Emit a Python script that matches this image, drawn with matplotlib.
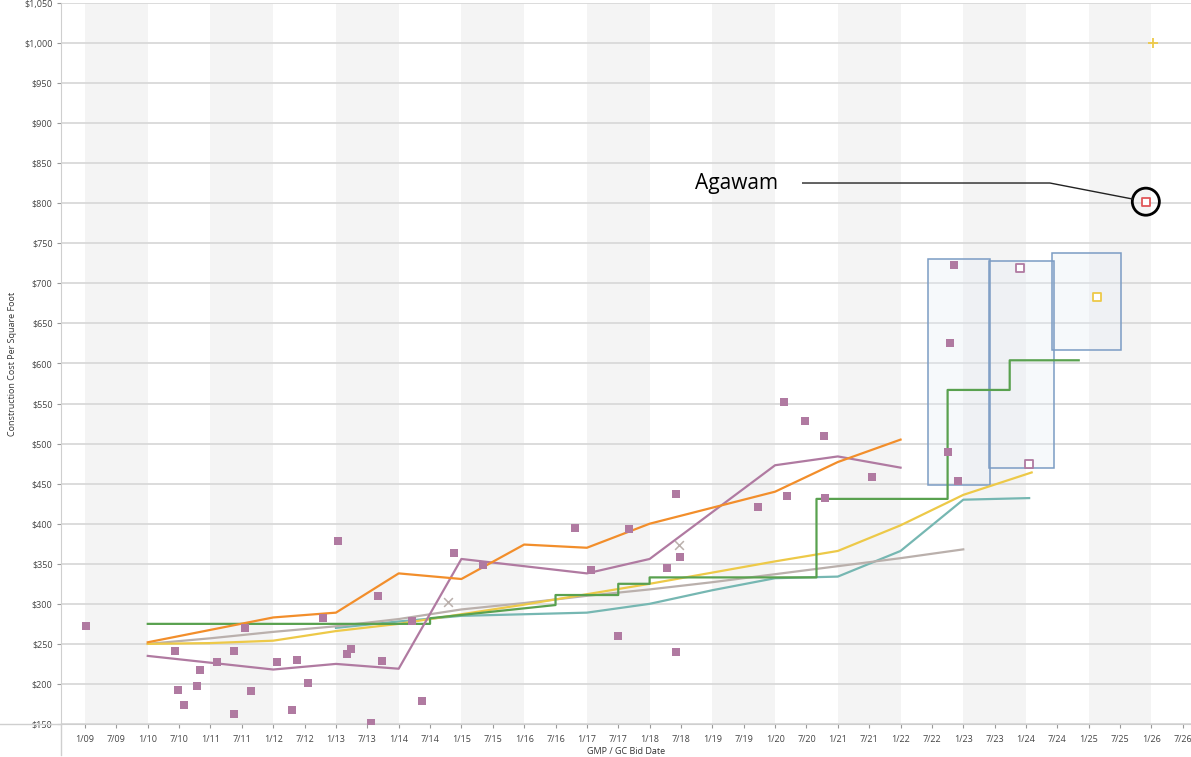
"""Construction cost per square foot against GMP / GC bid date."""
import matplotlib
matplotlib.use("Agg")
import matplotlib.pyplot as plt
from matplotlib.lines import Line2D
from matplotlib.patches import Rectangle
from matplotlib.ticker import FuncFormatter

plt.rcParams["font.family"] = ["Open Sans", "DejaVu Sans"]

# bid dates as decimal years, costs in $/sq ft
orange_x = [2010, 2012, 2013, 2014, 2015, 2016, 2017, 2018, 2020, 2021, 2022]
orange_y = [252, 283, 289, 338, 331, 374, 370, 400, 440, 477, 505]

purple_x = [2010, 2012, 2013, 2014, 2015, 2017, 2018, 2020, 2021, 2022]
purple_y = [235, 218, 225, 219, 356, 338, 356, 473, 484, 470]

yellow_x = [2010, 2011, 2012, 2013, 2014, 2015, 2016, 2017, 2018, 2019, 2020, 2021, 2022, 2023, 2024.09]
yellow_y = [250, 251, 254, 266, 275, 287, 299, 312, 325, 339, 353, 366, 398, 436, 464]

gray_x = [2010, 2011, 2012, 2013, 2014, 2015, 2016, 2017, 2018, 2019, 2020, 2021, 2022, 2023]
gray_y = [250, 257, 265, 272, 281, 293, 301, 310, 318, 327, 337, 347, 357, 368]

teal_x = [2013, 2014, 2015, 2015.5, 2017, 2018, 2019, 2020, 2021, 2022, 2023, 2024.05]
teal_y = [270, 278, 285, 286, 289, 300, 317, 332, 334, 366, 430, 432]

green_x = [2010, 2014.5, 2014.5, 2016.5, 2016.5, 2017.5, 2017.5, 2018.0, 2018.0,
           2020.66, 2020.66, 2022.75, 2022.75, 2023.74, 2023.74, 2024.84]
green_y = [275, 275, 282, 298.5, 311, 311, 325, 325, 333,
           333, 431, 431, 567, 567, 604, 604]

project_x = [2009.02, 2010.44, 2010.48, 2010.58, 2010.79, 2010.83, 2011.10, 2011.38, 2011.38,
             2011.55, 2011.64, 2012.06, 2012.30, 2012.38, 2012.56, 2012.79, 2013.04, 2013.17,
             2013.24, 2013.56, 2013.67, 2013.73, 2014.21, 2014.37, 2014.88, 2015.35, 2016.81,
             2017.07, 2017.50, 2017.67, 2018.27, 2018.42, 2018.42, 2018.49, 2019.72, 2020.15,
             2020.19, 2020.47, 2020.78, 2020.80, 2021.54, 2022.75, 2022.79, 2022.85, 2022.91]
project_y = [272, 241, 192, 174, 198, 218, 227, 241, 162,
             270, 191, 227, 167, 230, 201, 282, 378, 237,
             243, 151, 310, 229, 279, 179, 364, 348, 395,
             342, 260, 394, 345, 437, 240, 359, 421, 552,
             435, 528, 509, 432, 458, 490, 626, 723, 453]

pending_x = [2023.91, 2024.04]
pending_y = [719, 474]

estimate_x = [2014.78, 2018.47]
estimate_y = [302, 374]

yellow_open_x = [2025.13]
yellow_open_y = [683]
plus_x = [2026.03]
plus_y = [1000]

agawam_x = 2025.91
agawam_y = 802

# range boxes: start, end, low, high
box_start = [2022.44, 2023.41, 2024.42]
box_end = [2023.43, 2024.44, 2025.51]
box_low = [448, 469, 617]
box_high = [731, 727.5, 737.5]

tick_years = [2009 + 0.5 * i for i in range(36)]
tick_labels = [f"{1 if t % 1 == 0 else 7}/{int(t) % 100:02d}" for t in tick_years]

W, H = 1191, 757
fig = plt.figure(figsize=(W / 100, H / 100), dpi=100)
ax = fig.add_axes([61 / W, 33 / H, 1 - 61 / W, 721 / H])

ax.set_xlim(2008.617, 2026.63)
ax.set_ylim(150, 1050)

for yr in range(2009, 2026, 2):
    ax.axvspan(yr, yr + 1, color="#f4f4f4", lw=0, zorder=0)

ax.set_axisbelow(True)
ax.set_yticks(range(150, 1051, 50))
ax.yaxis.set_major_formatter(FuncFormatter(lambda v, _: f"${v:,.0f}"))
ax.grid(axis="y", color="#d6d6d6", lw=1.2)
ax.set_xticks(tick_years)
ax.set_xticklabels(tick_labels)
ax.tick_params(axis="both", labelsize=6.5, labelcolor="#444444", color="#999999", length=3)
ax.tick_params(axis="x", pad=5)
ax.tick_params(axis="y", pad=3)

for s in ("top", "right"):
    ax.spines[s].set_visible(False)
for s in ("left", "bottom"):
    ax.spines[s].set_color("#cfcfcf")

# axis lines run past the corner
fig.add_artist(Line2D([61 / W, 61 / W], [0.003, 33 / H], color="#cfcfcf", lw=1))
fig.add_artist(Line2D([0, 61 / W], [33 / H, 33 / H], color="#cfcfcf", lw=1))

for x0, x1, lo, hi in zip(box_start, box_end, box_low, box_high):
    ax.add_patch(Rectangle((x0, lo), x1 - x0, hi - lo, facecolor="#e6eef6", alpha=0.35,
                           edgecolor="none", zorder=2))
    ax.add_patch(Rectangle((x0, lo), x1 - x0, hi - lo, facecolor="none",
                           edgecolor="#7b9cc4", lw=1.1, zorder=2.1))

lw = 1.6
ax.plot(teal_x, teal_y, color="#76b7b2", lw=lw, zorder=3)
ax.plot(gray_x, gray_y, color="#bab0ac", lw=lw, zorder=3.1)
ax.plot(yellow_x, yellow_y, color="#edc948", lw=lw, zorder=3.2)
ax.plot(green_x, green_y, color="#59a14f", lw=lw, zorder=3.3)
ax.plot(purple_x, purple_y, color="#b07aa1", lw=lw, zorder=3.4)
ax.plot(orange_x, orange_y, color="#f28e2b", lw=lw, zorder=3.5)

ax.scatter(project_x, project_y, marker="s", s=38, color="#b07aa1", lw=0, zorder=4)
ax.scatter(pending_x, pending_y, marker="s", s=34, facecolor="white",
           edgecolor="#b07aa1", lw=1.3, zorder=4)
ax.scatter(yellow_open_x, yellow_open_y, marker="s", s=34, facecolor="white",
           edgecolor="#edc948", lw=1.3, zorder=4)
ax.scatter(estimate_x, estimate_y, marker="x", s=40, color="#bab0ac", lw=1.1, zorder=4)
ax.scatter(plus_x, plus_y, marker="+", s=50, color="#edc948", lw=1.3, zorder=4)
ax.scatter([agawam_x], [agawam_y], marker="s", s=34, facecolor="white",
           edgecolor="#e15759", lw=1.3, zorder=4)
ax.scatter([agawam_x], [agawam_y], marker="o", s=380, facecolor="none",
           edgecolor="black", lw=2, zorder=5)

ax.plot([2020.44, 2024.38, 2025.70], [825.3, 825.3, 805.3], color="#222222", lw=1, zorder=5)
ax.text(2020.05, 825.3, "Agawam", ha="right", va="center", fontsize=15, color="black")

ax.set_ylabel("Construction Cost Per Square Foot", fontsize=6.5, color="#333333")
ax.yaxis.set_label_coords(-44 / 1130, 0.5)
ax.set_xlabel("GMP / GC Bid Date", fontsize=6.5, color="#333333")
ax.xaxis.set_label_coords(0.5, -23 / 721)

fig.savefig("out.png", dpi=100)
